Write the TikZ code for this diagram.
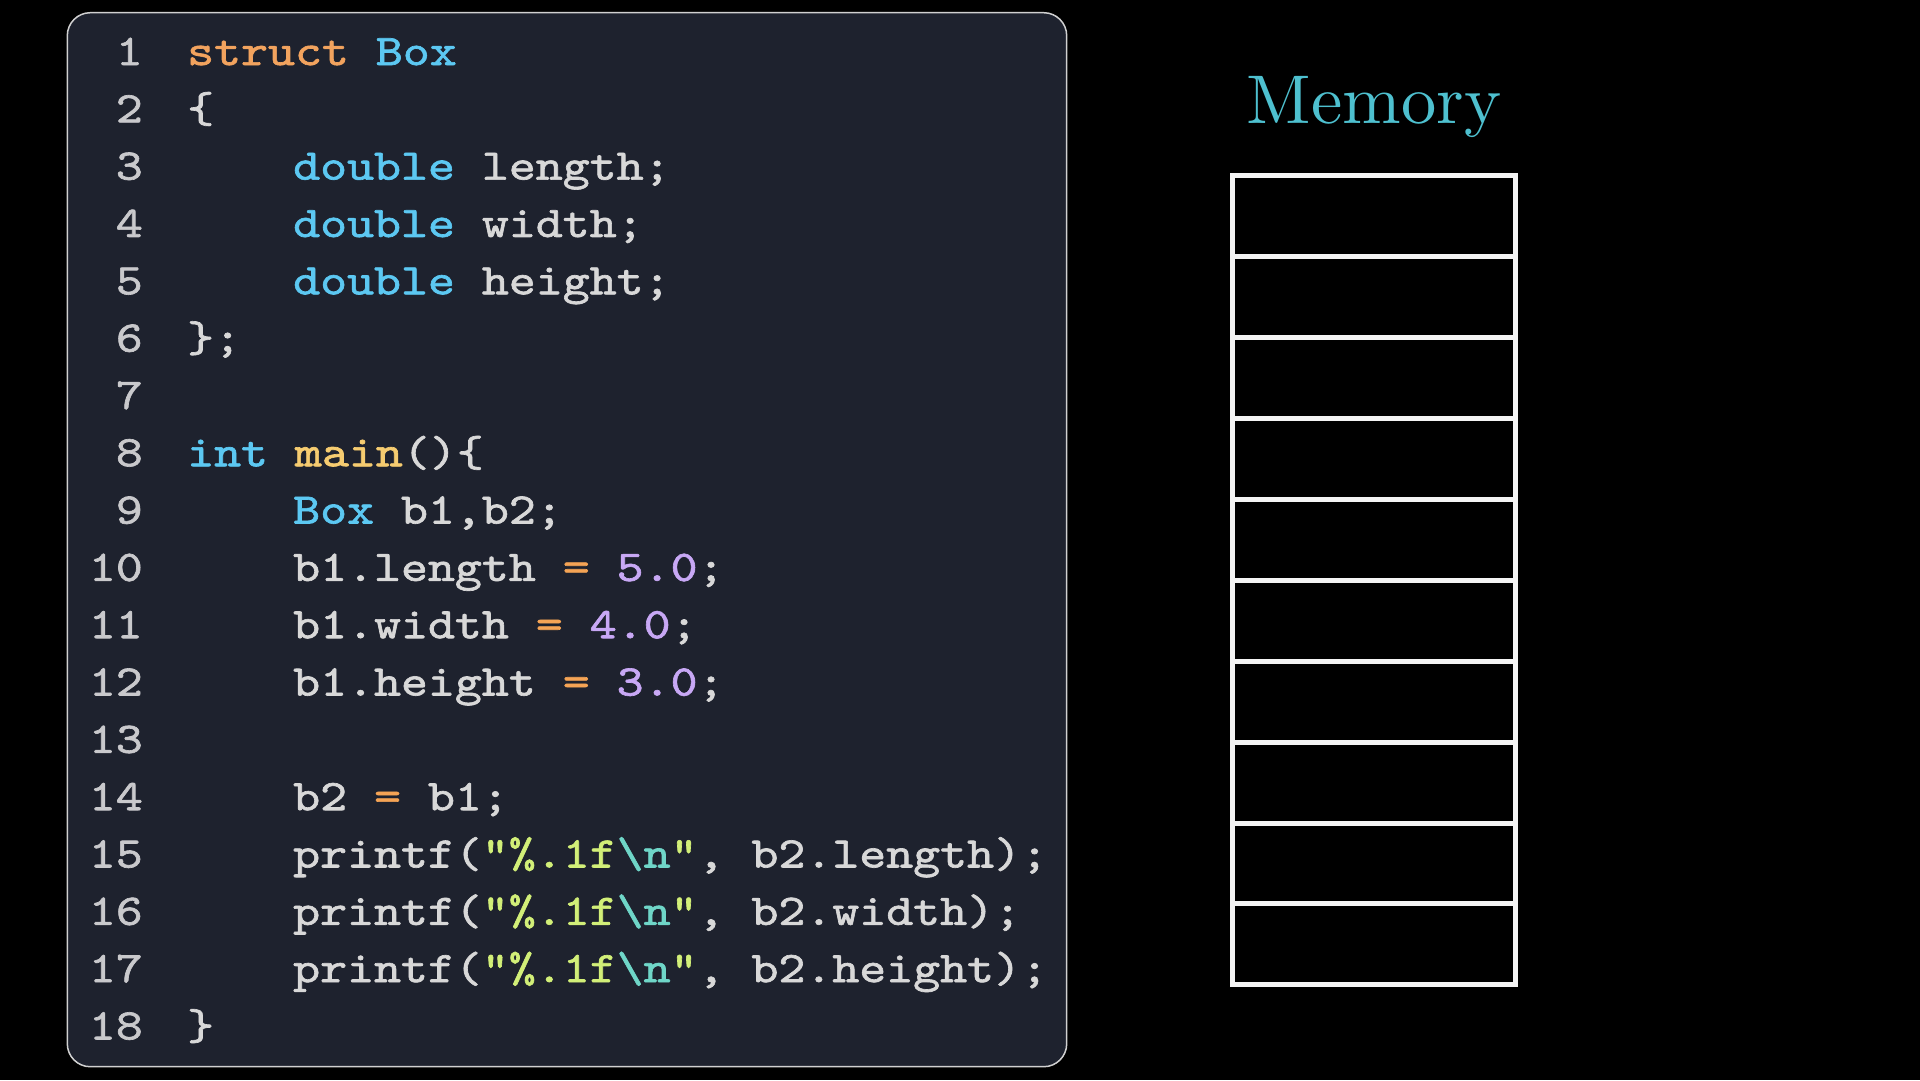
\documentclass[tikz,border=0pt]{standalone}
\usepackage{fontspec}
\setmonofont{lmmono10-regular.otf}[FakeStretch=1.175,FakeBold=1.5]
\newfontfamily\memfont{lmroman10-regular.otf}[FakeStretch=1.02]
\definecolor{pagebg}{HTML}{000000}
\definecolor{codebg}{HTML}{1E222E}
\definecolor{panelline}{HTML}{D0D0D0}
\definecolor{plain}{HTML}{D8D8D8}
\definecolor{lnum}{HTML}{C9C9CC}
\definecolor{kworange}{HTML}{F2A35E}
\definecolor{kwblue}{HTML}{5CC8F2}
\definecolor{fnyellow}{HTML}{F6CC70}
\definecolor{numc}{HTML}{C8A8F5}
\definecolor{strc}{HTML}{D2EF78}
\definecolor{escc}{HTML}{6FD6C8}
\definecolor{opeq}{HTML}{F5A455}
\definecolor{memcyan}{HTML}{4EC0CF}
\definecolor{cellline}{HTML}{F4F4F4}
\newcommand\codefont{\ttfamily\fontsize{43.7}{50}\selectfont}
\newcommand\SP{\hphantom{x}}
\newcommand\KO[1]{\textcolor{kworange}{#1}}
\newcommand\KB[1]{\textcolor{kwblue}{#1}}
\newcommand\FY[1]{\textcolor{fnyellow}{#1}}
\newcommand\NU[1]{\textcolor{numc}{#1}}
\newcommand\EQ{\textcolor{opeq}{=}}
\newcommand\FMT{\textcolor{strc}{"\%.1f}\textcolor{escc}{\textbackslash n}\textcolor{strc}{"}}
\begin{document}
\begin{tikzpicture}[x=1pt,y=-1pt,
  lnumtext/.style={anchor=base east,inner sep=0pt,text=lnum,font=\codefont},
  codetext/.style={anchor=base west,inner sep=0pt,text=plain,font=\codefont},
  memcell/.style={draw=cellline,line width=5pt,minimum width=282.5pt,minimum height=80.9pt,inner sep=0pt}]
\useasboundingbox[fill=pagebg] (0,0) rectangle (1920,1080);
% code panel
\draw[fill=codebg,draw=panelline,line width=1.5pt,rounded corners=23pt] (67.3,12.7) rectangle (1066.7,1066.7);
% line numbers
\foreach \i in {1,...,18}{
  \node[lnumtext] (n\i) at (143,{65+(\i-1)*57.32}) {\i};
}
\def\xa{187}
\def\xb{293}
\def\yy#1{65+(#1-1)*57.32}
\node[codetext] (c1)  at (\xa,{\yy{1}})  {\KO{struct}\SP\KB{Box}};
\node[codetext] (c2)  at (\xa,{\yy{2}})  {\{};
\node[codetext] (c3)  at (\xb,{\yy{3}})  {\KB{double}\SP length;};
\node[codetext] (c4)  at (\xb,{\yy{4}})  {\KB{double}\SP width;};
\node[codetext] (c5)  at (\xb,{\yy{5}})  {\KB{double}\SP height;};
\node[codetext] (c6)  at (\xa,{\yy{6}})  {\};};
\node[codetext] (c8)  at (\xa,{\yy{8}})  {\KB{int}\SP\FY{main}()\{};
\node[codetext] (c9)  at (\xb,{\yy{9}})  {\KB{Box}\SP b1,b2;};
\node[codetext] (c10) at (\xb,{\yy{10}}) {b1.length\SP\EQ\SP\NU{5.0};};
\node[codetext] (c11) at (\xb,{\yy{11}}) {b1.width\SP\EQ\SP\NU{4.0};};
\node[codetext] (c12) at (\xb,{\yy{12}}) {b1.height\SP\EQ\SP\NU{3.0};};
\node[codetext] (c14) at (\xb,{\yy{14}}) {b2\SP\EQ\SP b1;};
\node[codetext] (c15) at (\xb,{\yy{15}}) {printf(\FMT,\SP b2.length);};
\node[codetext] (c16) at (\xb,{\yy{16}}) {printf(\FMT,\SP b2.width);};
\node[codetext] (c17) at (\xb,{\yy{17}}) {printf(\FMT,\SP b2.height);};
\node[codetext] (c18) at (\xa,{\yy{18}}) {\}};
% memory
\node[anchor=base,inner sep=0pt,text=memcyan,font=\memfont\fontsize{69}{72}\selectfont] (memtitle) at (1374,123) {Memory};
\foreach \i in {1,...,10}{
  \node[memcell] (cell\i) at (1373.75,{175.8+80.9*(\i-0.5)}) {};
}
\end{tikzpicture}
\end{document}
